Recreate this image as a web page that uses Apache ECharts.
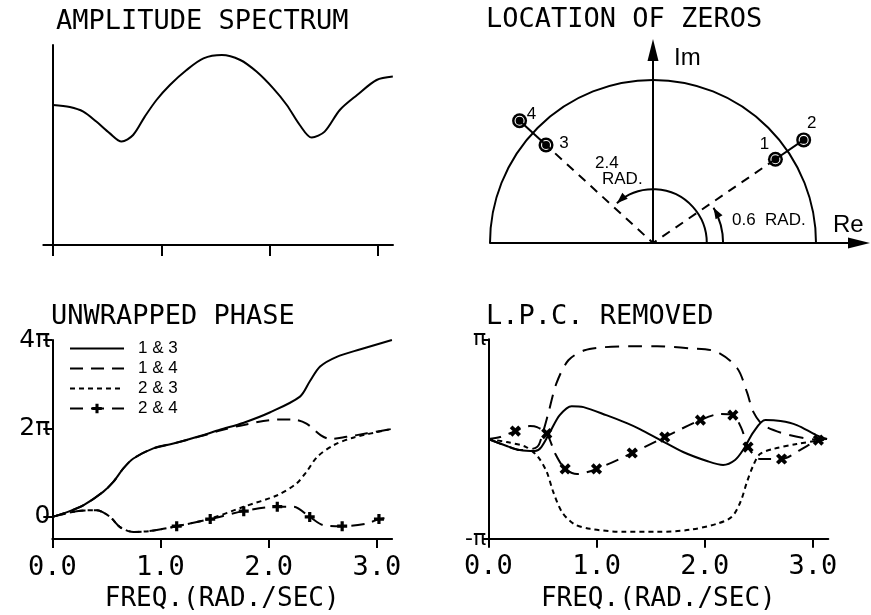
<!DOCTYPE html>
<html>
<head>
<meta charset="utf-8">
<script src="https://cdn.jsdelivr.net/npm/echarts@6/dist/echarts.min.js"></script>
<style>
  html, body { margin: 0; padding: 0; background: #fff; }
  #chart { width: 871px; height: 615px; }
</style>
</head>
<body>
<div id="chart"></div>
<script>
// ---------- amplitude spectrum (arbitrary linear units) ----------
const ampFreq  = [0, 0.155, 0.28, 0.40, 0.525, 0.633, 0.74, 0.848, 0.956, 1.08, 1.234, 1.39, 1.56, 1.73, 1.88, 2.035, 2.16, 2.28, 2.39, 2.51, 2.65, 2.81, 2.99, 3.14];
const ampValue = [0.70, 0.69, 0.667, 0.617, 0.558, 0.517, 0.55, 0.642, 0.725, 0.80, 0.875, 0.933, 0.95, 0.925, 0.867, 0.783, 0.70, 0.60, 0.537, 0.567, 0.675, 0.75, 0.825, 0.842];

// ---------- zero locations (radius, angle in rad) ----------
const zeroNames  = ['1', '2', '3', '4'];
const zeroRadius = [0.91, 1.12, 0.89, 1.11];
const zeroAngle  = [0.6, 0.6, 2.4, 2.4];
// angle annotations: arc radius and swept angle (rad)
const angleArcRadius = [0.33, 0.43];
const angleArcSweep  = [2.4, 0.6];

// ---------- unwrapped phase (multiples of π) ----------
const uwFreq13  = [0, 0.15, 0.29, 0.47, 0.564, 0.657, 0.75, 0.934, 1.12, 1.366, 1.55, 1.77, 2.01, 2.29, 2.38, 2.476, 2.63, 2.85, 3.14];
const uwPhase13 = [0, 0.12, 0.265, 0.566, 0.79, 1.096, 1.32, 1.55, 1.66, 1.83, 1.97, 2.13, 2.36, 2.72, 3.06, 3.40, 3.62, 3.79, 4.0];
const uwFreq14  = [0, 0.15, 0.29, 0.47, 0.564, 0.657, 0.75, 0.934, 1.12, 1.366, 1.55, 1.77, 2.08, 2.23, 2.35, 2.48, 2.57, 2.72, 2.91, 3.14];
const uwPhase14 = [0, 0.12, 0.265, 0.566, 0.79, 1.096, 1.32, 1.55, 1.66, 1.82, 1.95, 2.08, 2.20, 2.20, 2.11, 1.85, 1.76, 1.81, 1.89, 1.99];
const uwFreq23  = [0, 0.226, 0.41, 0.534, 0.626, 0.75, 0.90, 1.15, 1.46, 1.77, 2.08, 2.26, 2.35, 2.45, 2.6, 2.78, 3.14];
const uwPhase23 = [0, 0.13, 0.15, 0.0, -0.23, -0.34, -0.32, -0.21, -0.04, 0.23, 0.49, 0.76, 1.02, 1.36, 1.62, 1.79, 1.99];
const uwFreq24  = [0, 0.226, 0.41, 0.534, 0.626, 0.75, 0.90, 1.15, 1.46, 1.77, 2.08, 2.23, 2.38, 2.51, 2.68, 2.91, 3.02, 3.12];
const uwPhase24 = [0, 0.13, 0.15, 0.0, -0.23, -0.34, -0.32, -0.21, -0.05, 0.13, 0.23, 0.23, 0.0, -0.19, -0.21, -0.15, -0.05, -0.02];
const uwMark24  = [0, 0, 0, 0, 0, 0, 0, 1, 1, 1, 1, 0, 1, 0, 1, 0, 1, 0];

// ---------- phase with linear-phase component removed (multiples of π) ----------
const lpFreq13  = [0, 0.17, 0.29, 0.43, 0.49, 0.57, 0.66, 0.77, 0.88, 1.09, 1.28, 1.40, 1.59, 1.80, 2.02, 2.17, 2.28, 2.36, 2.45, 2.56, 2.70, 2.85, 3.03, 3.13];
const lpPhase13 = [0, -0.07, -0.11, -0.12, -0.08, 0.07, 0.24, 0.33, 0.32, 0.24, 0.16, 0.10, -0.01, -0.13, -0.22, -0.26, -0.21, -0.10, 0.07, 0.19, 0.18, 0.14, 0.04, 0.0];
const lpFreq14  = [0, 0.17, 0.29, 0.45, 0.50, 0.555, 0.63, 0.74, 0.89, 1.06, 1.34, 1.56, 1.86, 2.11, 2.30, 2.39, 2.45, 2.54, 2.73, 2.94, 3.10];
const lpPhase14 = [0, -0.07, -0.11, -0.08, 0.05, 0.26, 0.56, 0.79, 0.89, 0.92, 0.93, 0.93, 0.91, 0.875, 0.71, 0.47, 0.27, 0.14, 0.055, 0.005, -0.01];
const lpFreq23  = [0, 0.17, 0.35, 0.46, 0.54, 0.60, 0.68, 0.79, 0.94, 1.25, 1.56, 1.86, 2.11, 2.25, 2.33, 2.39, 2.45, 2.51, 2.63, 2.85, 3.07, 3.13];
const lpPhase23 = [0, -0.03, -0.08, -0.18, -0.33, -0.53, -0.73, -0.85, -0.90, -0.93, -0.93, -0.91, -0.85, -0.78, -0.63, -0.43, -0.26, -0.15, -0.10, -0.05, -0.01, 0];
const lpFreq24  = [0, 0.11, 0.25, 0.385, 0.45, 0.54, 0.62, 0.71, 0.82, 1.0, 1.33, 1.63, 1.96, 2.14, 2.26, 2.34, 2.40, 2.51, 2.71, 2.88, 3.05, 3.13];
const lpPhase24 = [0, 0.02, 0.08, 0.13, 0.12, 0.055, -0.15, -0.30, -0.35, -0.30, -0.14, 0.02, 0.19, 0.25, 0.24, 0.105, -0.08, -0.20, -0.20, -0.11, -0.01, 0];
const lpMark24  = [0, 0, 1, 0, 0, 1, 0, 1, 0, 1, 1, 1, 1, 0, 1, 0, 1, 0, 1, 0, 1, 0];

// ---------- tick labels ----------
const freqTicks = [0, 1, 2, 3];
const uwTicks = [0, 2, 4];
const uwTickText = { 0: '0', 2: '2π', 4: '4π' };
const lpTicks = [-1, 1];
const lpTickText = { '-1': '-π', 1: 'π' };
const legendNames = ['1 & 3', '1 & 4', '2 & 3', '2 & 4'];

// ---------- styling ----------
const MONO = '"DejaVu Sans Mono", monospace';
const SANS = '"Liberation Sans", Arial, sans-serif';
const PI_FONT = '"DejaVu Sans", sans-serif';
const INK = '#000';
const PLUS = 'path://M3.4,0H6.6V3.4H10V6.6H6.6V10H3.4V6.6H0V3.4H3.4Z';
const DASH_LONG = [13, 8];
const DASH_SHORT = [5, 4];
const zeroLabelOffset = [[-11, -15], [8, -17], [18, -2], [12, -6]];

const zip = (xs, ys) => xs.map((x, i) => [x, ys[i]]);
const marked = (xs, ys, ms, sym) => xs.map((x, i) => ({ value: [x, ys[i]], symbol: ms[i] ? sym : 'none' }));
const polarToXY = (r, a) => [r * Math.cos(a), r * Math.sin(a)];
const zeroXY = zeroRadius.map((r, i) => polarToXY(r, zeroAngle[i]));

const axisLineStyle = { color: INK, width: 2 };

function freqAxis(gridIndex) {
  return {
    type: 'value', gridIndex, min: 0, max: Math.PI,
    axisLine: { show: true, onZero: false, lineStyle: axisLineStyle },
    axisTick: { show: true, customValues: freqTicks, length: 9, lineStyle: axisLineStyle },
    axisLabel: {
      show: true, customValues: freqTicks, margin: 15,
      formatter: v => v.toFixed(1),
      fontFamily: MONO, fontSize: 27, color: INK
    },
    splitLine: { show: false },
    name: 'FREQ.(RAD./SEC)', nameLocation: 'middle', nameGap: 47, nameMoveOverlap: false,
    nameTextStyle: { fontFamily: MONO, fontSize: 26, color: INK }
  };
}

// arc with optional arrowhead, centred on the origin of the data grid
function renderArc(params, api) {
  const r = api.value(0), a0 = api.value(1), a1 = api.value(2), arrow = api.value(3);
  const c = api.coord([0, 0]);
  const rp = api.size([r, 0])[0];
  const tip = arrow ? a1 - 5 / rp : a1;
  const children = [{
    type: 'arc',
    shape: { cx: c[0], cy: c[1], r: rp, startAngle: -tip, endAngle: -a0, clockwise: true },
    style: { stroke: INK, fill: null, lineWidth: 2 }
  }];
  if (arrow) {
    const tx = c[0] + rp * Math.cos(tip), ty = c[1] - rp * Math.sin(tip);
    const dx = -Math.sin(tip), dy = -Math.cos(tip);
    const nx = Math.cos(tip), ny = -Math.sin(tip);
    const L = 11, W = 4;
    children.push({
      type: 'polygon',
      shape: { points: [[tx, ty], [tx - L * dx + W * nx, ty - L * dy + W * ny], [tx - L * dx - W * nx, ty - L * dy - W * ny]] },
      style: { fill: INK }
    });
  }
  return { type: 'group', children };
}

const titleStyle = { fontFamily: MONO, fontSize: 27, fontWeight: 'normal', color: INK };
const hiddenDot = { opacity: 0 };

const option = {
  backgroundColor: '#fff',
  animation: false,
  textStyle: { fontFamily: SANS, color: INK },
  title: [
    { text: 'AMPLITUDE SPECTRUM', left: 56, top: 8, padding: 0, textStyle: titleStyle },
    { text: 'LOCATION OF ZEROS', left: 486, top: 6, padding: 0, textStyle: titleStyle },
    { text: 'UNWRAPPED PHASE', left: 51, top: 303, padding: 0, textStyle: titleStyle },
    { text: 'L.P.C. REMOVED', left: 486, top: 303, padding: 0, textStyle: titleStyle }
  ],
  legend: {
    data: [
      { name: legendNames[0], itemStyle: hiddenDot },
      { name: legendNames[1], itemStyle: hiddenDot },
      { name: legendNames[2], itemStyle: hiddenDot },
      { name: legendNames[3] }
    ],
    orient: 'vertical', left: 64, top: 335,
    itemWidth: 54, itemHeight: 12, itemGap: 3, selectedMode: false,
    textStyle: { fontFamily: SANS, fontSize: 17, color: INK, lineHeight: 13, padding: [0, 0, 0, 9] }
  },
  grid: [
    { left: 43.3, top: 45, width: 349.7, height: 200, outerBoundsMode: 'none' },
    { left: 490, top: 50, width: 369, height: 193, outerBoundsMode: 'none' },
    { left: 52.3, top: 340, width: 339.8, height: 199, outerBoundsMode: 'none' },
    { left: 488.3, top: 339.3, width: 340, height: 199.5, outerBoundsMode: 'none' }
  ],
  xAxis: [
    {
      type: 'value', gridIndex: 0, min: -0.09, max: Math.PI,
      axisLine: { show: true, onZero: true, lineStyle: axisLineStyle },
      axisTick: { show: true, customValues: freqTicks, length: 11, lineStyle: axisLineStyle },
      axisLabel: { show: false }, splitLine: { show: false }
    },
    {
      type: 'value', gridIndex: 1, min: -1, max: 1.2638,
      axisLine: { show: true, onZero: true, lineStyle: axisLineStyle, symbol: ['none', 'triangle'], symbolSize: [11, 22] },
      axisTick: { show: false }, axisLabel: { show: false }, splitLine: { show: false },
      name: 'Re', nameLocation: 'end', nameGap: -26,
      nameTextStyle: { fontFamily: SANS, fontSize: 24, color: INK, align: 'left', verticalAlign: 'bottom', padding: [0, 0, 6, 0] }
    },
    freqAxis(2),
    freqAxis(3)
  ],
  yAxis: [
    {
      type: 'value', gridIndex: 0, min: 0, max: 1,
      axisLine: { show: true, onZero: true, lineStyle: axisLineStyle },
      axisTick: { show: false }, axisLabel: { show: false }, splitLine: { show: false }
    },
    {
      type: 'value', gridIndex: 1, min: 0, max: 1.184,
      axisLine: { show: true, onZero: true, lineStyle: axisLineStyle, symbol: ['none', 'triangle'], symbolSize: [11, 22] },
      axisTick: { show: false }, axisLabel: { show: false }, splitLine: { show: false },
      name: 'Im', nameLocation: 'end', nameGap: -20,
      nameTextStyle: { fontFamily: SANS, fontSize: 24, color: INK, align: 'left', verticalAlign: 'bottom', padding: [0, 0, 0, 21] }
    },
    {
      type: 'value', gridIndex: 2, min: -0.5, max: 4,
      axisLine: { show: true, onZero: false, lineStyle: axisLineStyle },
      axisTick: { show: true, customValues: uwTicks, length: 9, lineStyle: axisLineStyle },
      axisLabel: { show: true, customValues: uwTicks, margin: 2, formatter: v => uwTickText[v], fontFamily: PI_FONT, fontSize: 25, color: INK },
      splitLine: { show: false }
    },
    {
      type: 'value', gridIndex: 3, min: -1, max: 1,
      axisLine: { show: true, onZero: false, lineStyle: axisLineStyle },
      axisTick: { show: true, customValues: lpTicks, length: 6, lineStyle: axisLineStyle },
      axisLabel: { show: true, customValues: lpTicks, margin: 2, formatter: v => lpTickText[v], fontFamily: PI_FONT, fontSize: 22, color: INK },
      splitLine: { show: false }
    }
  ],
  graphic: [
    { type: 'text', left: 595, top: 155, style: { text: '2.4', font: '17px ' + SANS, fill: INK } },
    { type: 'text', left: 602, top: 171, style: { text: 'RAD.', font: '17px ' + SANS, fill: INK } },
    { type: 'text', left: 732, top: 212, style: { text: '0.6  RAD.', font: '17px ' + SANS, fill: INK } }
  ],
  series: [
    // amplitude spectrum
    {
      type: 'line', xAxisIndex: 0, yAxisIndex: 0, data: zip(ampFreq, ampValue),
      smooth: 0.3, symbol: 'none', lineStyle: { color: INK, width: 2 }
    },
    // unit half-circle and angle arcs
    {
      type: 'custom', xAxisIndex: 1, yAxisIndex: 1, renderItem: renderArc,
      data: [[1, 0, Math.PI, 0]].concat(angleArcRadius.map((r, i) => [r, 0, angleArcSweep[i], 1]))
    },
    // dashed rays to zeros 1 and 3
    {
      type: 'line', xAxisIndex: 1, yAxisIndex: 1, symbol: 'none',
      data: [zeroXY[0], [0, 0], zeroXY[2]],
      lineStyle: { color: INK, width: 2, type: [9, 7] }
    },
    // short segments joining each zero pair across the circle
    {
      type: 'line', xAxisIndex: 1, yAxisIndex: 1, symbol: 'none',
      data: [zeroXY[0], zeroXY[1]], lineStyle: { color: INK, width: 2 }
    },
    {
      type: 'line', xAxisIndex: 1, yAxisIndex: 1, symbol: 'none',
      data: [zeroXY[2], zeroXY[3]], lineStyle: { color: INK, width: 2 }
    },
    // zero markers: black disc, white ring, black centre
    {
      type: 'scatter', xAxisIndex: 1, yAxisIndex: 1, symbolSize: 15,
      itemStyle: { color: INK, opacity: 1 },
      data: zeroXY.map((p, i) => ({
        value: p, name: zeroNames[i],
        label: { show: true, position: 'inside', offset: zeroLabelOffset[i], formatter: '{b}', fontFamily: SANS, fontSize: 17, color: INK }
      }))
    },
    {
      type: 'scatter', xAxisIndex: 1, yAxisIndex: 1, symbolSize: 9,
      itemStyle: { color: INK, opacity: 1, borderColor: '#fff', borderWidth: 1.1 },
      data: zeroXY
    },
    // unwrapped phase
    {
      name: '1 & 3', type: 'line', xAxisIndex: 2, yAxisIndex: 2, smooth: 0.3, symbol: 'none',
      data: zip(uwFreq13, uwPhase13), lineStyle: { color: INK, width: 2 }, itemStyle: { color: INK }
    },
    {
      name: '1 & 4', type: 'line', xAxisIndex: 2, yAxisIndex: 2, smooth: 0.3, symbol: 'none',
      data: zip(uwFreq14, uwPhase14), lineStyle: { color: INK, width: 2, type: DASH_LONG }, itemStyle: { color: INK }
    },
    {
      name: '2 & 3', type: 'line', xAxisIndex: 2, yAxisIndex: 2, smooth: 0.3, symbol: 'none',
      data: zip(uwFreq23, uwPhase23), lineStyle: { color: INK, width: 2, type: DASH_SHORT }, itemStyle: { color: INK }
    },
    {
      name: '2 & 4', type: 'line', xAxisIndex: 2, yAxisIndex: 2, smooth: 0.3,
      symbol: PLUS, symbolSize: 10, showSymbol: true, showAllSymbol: true,
      data: marked(uwFreq24, uwPhase24, uwMark24, PLUS),
      lineStyle: { color: INK, width: 2, type: DASH_LONG }, itemStyle: { color: INK }
    },
    // L.P.C. removed
    {
      name: '1 & 3', type: 'line', xAxisIndex: 3, yAxisIndex: 3, smooth: 0.3, symbol: 'none',
      data: zip(lpFreq13, lpPhase13), lineStyle: { color: INK, width: 2 }
    },
    {
      name: '1 & 4', type: 'line', xAxisIndex: 3, yAxisIndex: 3, smooth: 0.3, symbol: 'none',
      data: zip(lpFreq14, lpPhase14), lineStyle: { color: INK, width: 2, type: [14, 9] }
    },
    {
      name: '2 & 3', type: 'line', xAxisIndex: 3, yAxisIndex: 3, smooth: 0.3, symbol: 'none',
      data: zip(lpFreq23, lpPhase23), lineStyle: { color: INK, width: 2, type: DASH_SHORT }
    },
    {
      name: '2 & 4', type: 'line', xAxisIndex: 3, yAxisIndex: 3, smooth: 0.3,
      symbol: PLUS, symbolSize: 12, symbolRotate: 45, showSymbol: true, showAllSymbol: true,
      data: marked(lpFreq24, lpPhase24, lpMark24, PLUS),
      lineStyle: { color: INK, width: 2, type: DASH_LONG }, itemStyle: { color: INK }
    }
  ]
};

const chart = echarts.init(document.getElementById('chart'), null, { renderer: 'canvas' });
chart.setOption(option);
</script>
</body>
</html>
